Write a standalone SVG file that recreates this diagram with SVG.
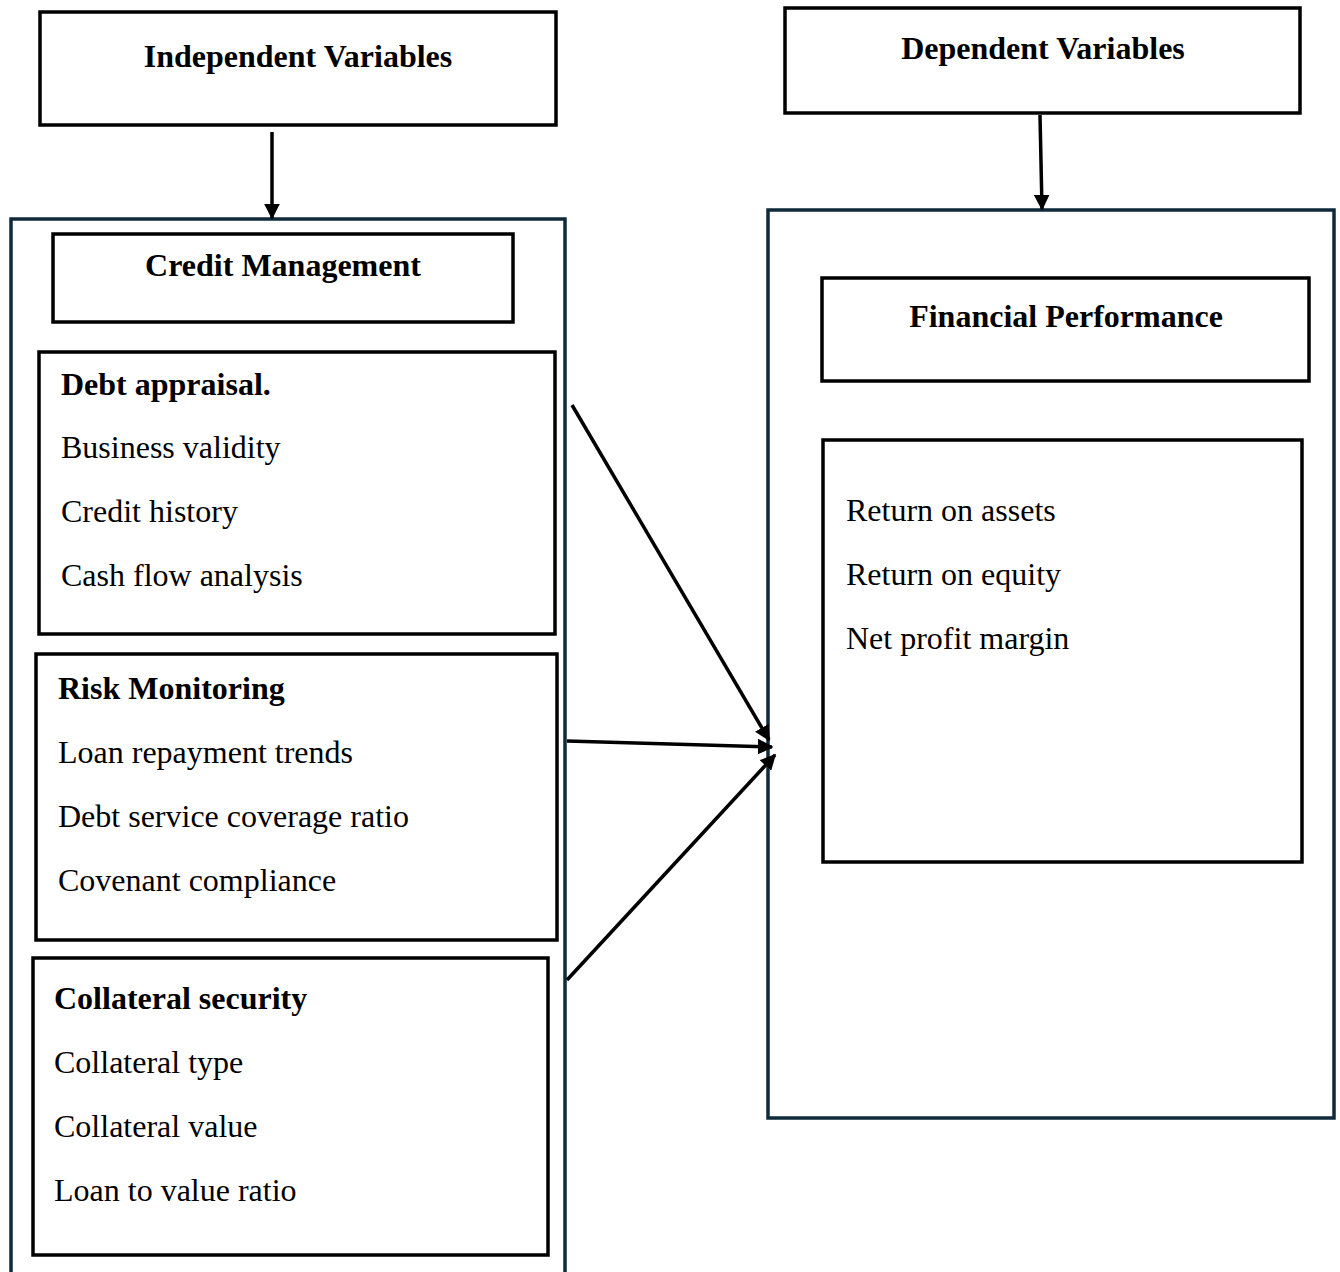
<svg xmlns="http://www.w3.org/2000/svg" width="1340" height="1272" viewBox="0 0 1340 1272">
<style>
.box{fill:#fff;stroke:#000;stroke-width:3.5}
.outer{fill:#fff;stroke:#0f2a3a;stroke-width:3.5}
.t{font-family:"Liberation Serif","Times New Roman",serif;font-size:32px;fill:#000}
.b{font-weight:bold}
.c{text-anchor:middle}
.ln{stroke:#000;stroke-width:3.5;fill:none;marker-end:url(#ah)}
</style>
<defs>
<marker id="ah" viewBox="0 0 10 10" refX="9" refY="5" markerWidth="4.5" markerHeight="4.5" orient="auto" markerUnits="strokeWidth">
<path d="M0,0 L10,5 L0,10 z" fill="#000"/>
</marker>
</defs>
<g id="left-outer"><rect class="outer" x="11" y="219" width="554" height="1070"/></g>
<g id="right-outer"><rect class="outer" x="768" y="210" width="566" height="908"/></g>
<g id="independent"><rect class="box" x="40" y="12" width="516" height="113"/><text class="t b c" x="298" y="67">Independent Variables</text></g>
<g id="dependent"><rect class="box" x="785" y="8" width="515" height="105"/><text class="t b c" x="1043" y="59">Dependent Variables</text></g>
<g id="credit-management"><rect class="box" x="53" y="234" width="460" height="88"/><text class="t b c" x="283" y="276">Credit Management</text></g>
<g id="debt-appraisal"><rect class="box" x="39" y="352" width="516" height="282"/>
<text class="t b" x="61" y="395">Debt appraisal.</text>
<text class="t" x="61" y="458">Business validity</text>
<text class="t" x="61" y="522">Credit history</text>
<text class="t" x="61" y="586">Cash flow analysis</text></g>
<g id="risk-monitoring"><rect class="box" x="36" y="654" width="521" height="286"/>
<text class="t b" x="58" y="699">Risk Monitoring</text>
<text class="t" x="58" y="763">Loan repayment trends</text>
<text class="t" x="58" y="827">Debt service coverage ratio</text>
<text class="t" x="58" y="891">Covenant compliance</text></g>
<g id="collateral-security"><rect class="box" x="33" y="958" width="515" height="297"/>
<text class="t b" x="54" y="1009">Collateral security</text>
<text class="t" x="54" y="1073">Collateral type</text>
<text class="t" x="54" y="1137">Collateral value</text>
<text class="t" x="54" y="1201">Loan to value ratio</text></g>
<g id="financial-performance"><rect class="box" x="822" y="278" width="487" height="103"/><text class="t b c" x="1066" y="327">Financial Performance</text></g>
<g id="fp-measures"><rect class="box" x="823" y="440" width="479" height="422"/>
<text class="t" x="846" y="521">Return on assets</text>
<text class="t" x="846" y="585">Return on equity</text>
<text class="t" x="846" y="649">Net profit margin</text></g>
<g id="connectors">
<line class="ln" x1="272" y1="132" x2="272" y2="218"/>
<line class="ln" x1="1040" y1="115" x2="1042" y2="209"/>
<line class="ln" x1="572" y1="405" x2="769" y2="740"/>
<line class="ln" x1="567" y1="741" x2="772" y2="747"/>
<line class="ln" x1="567" y1="980" x2="775" y2="755"/>
</g>
</svg>
